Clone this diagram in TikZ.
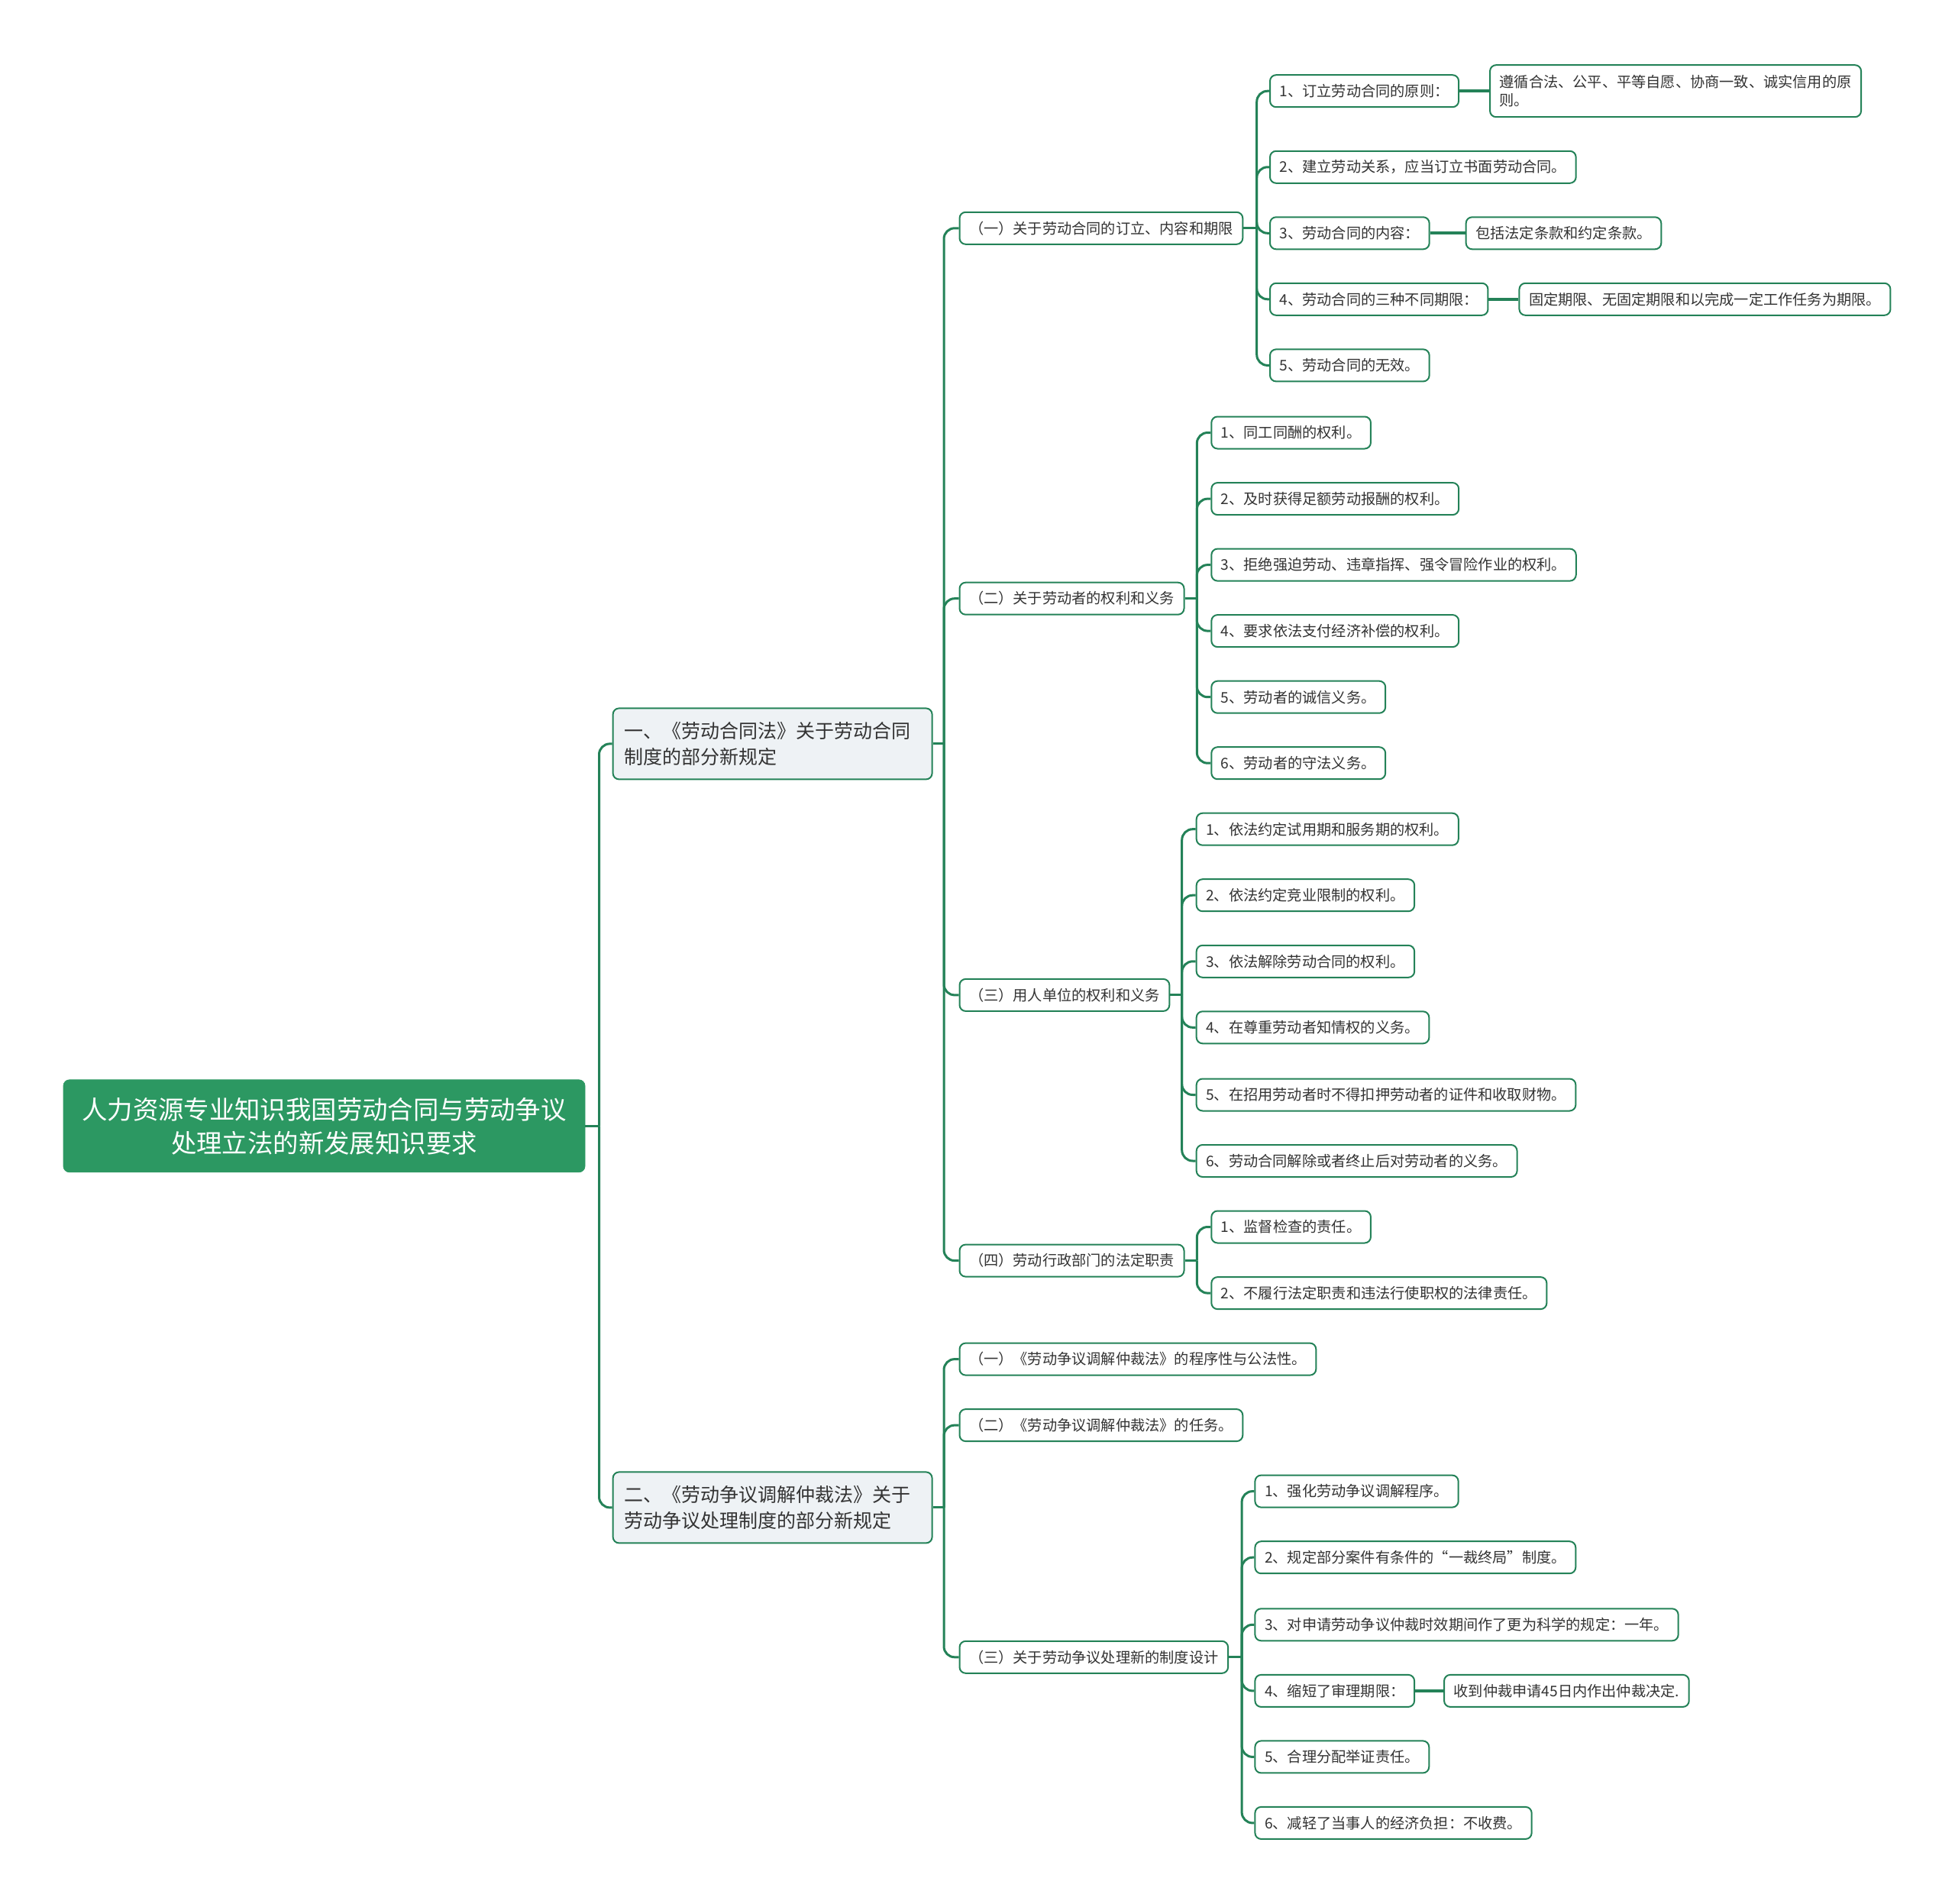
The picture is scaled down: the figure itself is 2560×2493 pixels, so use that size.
\documentclass[tikz,border=0pt]{standalone}
\usepackage{fontspec}
\setmainfont{Noto Sans CJK SC}
\usetikzlibrary{positioning}
\definecolor{mapgreen}{RGB}{44,152,98}
\definecolor{linegreen}{RGB}{36,130,88}
\definecolor{secfill}{RGB}{238,242,245}
\definecolor{txtgray}{RGB}{51,51,51}
\tikzset{
  rootbox/.style={draw=mapgreen,fill=mapgreen,rounded corners=4pt,text=white,
    font=\fontsize{16.7}{22}\selectfont,align=center,minimum width=341.5pt,
    minimum height=60.5pt,inner sep=0pt},
  secbox/.style={draw=linegreen,line width=1pt,fill=secfill,rounded corners=4pt,
    text=txtgray,font=\fontsize{12.5}{17}\selectfont,text width=194pt,align=left,
    inner xsep=7.5pt,inner ysep=0pt,minimum height=46.5pt,anchor=west},
  subbox/.style={draw=linegreen,line width=1pt,fill=white,rounded corners=4pt,
    text=txtgray,font=\fontsize{9.6}{12.2}\selectfont,align=left,
    inner xsep=6.3pt,inner ysep=0pt,minimum height=21pt,anchor=west},
  flow/.style={draw=linegreen,line width=1.5pt,rounded corners=7pt},
  link/.style={draw=linegreen,line width=1.8pt},
}
\begin{document}
\begin{tikzpicture}[x=0.5pt,y=-0.5pt]
  \useasboundingbox (0,0) rectangle (2560,2493);
  % trunks
  \coordinate (t0) at (784.5,0);
  \coordinate (ts1) at (1236,0);
  \coordinate (ts2) at (1236,0);
  \coordinate (ta1) at (1645.7,0);
  \coordinate (ta2) at (1567.3,0);
  \coordinate (ta3) at (1547.7,0);
  \coordinate (ta4) at (1567.3,0);
  \coordinate (tb3) at (1626.1,0);

  \node[rootbox] (root) at (424.5,1474.3) {人力资源专业知识我国劳动合同与劳动争议\\处理立法的新发展知识要求};

  \node[secbox] (s1) at (801.6,973.9) {一、《劳动合同法》关于劳动合同\\制度的部分新规定};
  \node[secbox] (s2) at (801.6,1973.9) {二、《劳动争议调解仲裁法》关于\\劳动争议处理制度的部分新规定};

  \node[subbox] (a1) at (1255.5,298.8) {（一）关于劳动合同的订立、内容和期限};
  \node[subbox] (a2) at (1255.5,783.7) {（二）关于劳动者的权利和义务};
  \node[subbox] (a3) at (1255.5,1302.9) {（三）用人单位的权利和义务};
  \node[subbox] (a4) at (1255.5,1650.6) {（四）劳动行政部门的法定职责};
  \node[subbox] (b1) at (1255.5,1779.6) {（一）《劳动争议调解仲裁法》的程序性与公法性。};
  \node[subbox] (b2) at (1255.5,1866.1) {（二）《劳动争议调解仲裁法》的任务。};
  \node[subbox] (b3) at (1255.5,2169.8) {（三）关于劳动争议处理新的制度设计};

  % (一) 订立、内容和期限
  \node[subbox] (a11) at (1662,119.2) {1、订立劳动合同的原则：};
  \node[subbox] (a12) at (1662,218.8) {2、建立劳动关系，应当订立书面劳动合同。};
  \node[subbox] (a13) at (1662,305.3) {3、劳动合同的内容：};
  \node[subbox] (a14) at (1662,391.8) {4、劳动合同的三种不同期限：};
  \node[subbox] (a15) at (1662,478.4) {5、劳动合同的无效。};
  \node[subbox,minimum height=34pt,right=19.5pt of a11] (a11d) {遵循合法、公平、平等自愿、协商一致、诚实信用的原\\则。};
  \node[subbox,right=23pt of a13] (a13d) {包括法定条款和约定条款。};
  \node[subbox,right=19.5pt of a14] (a14d) {固定期限、无固定期限和以完成一定工作任务为期限。};

  % (二) 劳动者
  \node[subbox] (a21) at (1585.3,566.5) {1、同工同酬的权利。};
  \node[subbox] (a22) at (1585.3,653.1) {2、及时获得足额劳动报酬的权利。};
  \node[subbox] (a23) at (1585.3,739.6) {3、拒绝强迫劳动、违章指挥、强令冒险作业的权利。};
  \node[subbox] (a24) at (1585.3,826.1) {4、要求依法支付经济补偿的权利。};
  \node[subbox] (a25) at (1585.3,912.7) {5、劳动者的诚信义务。};
  \node[subbox] (a26) at (1585.3,999.2) {6、劳动者的守法义务。};

  % (三) 用人单位
  \node[subbox] (a31) at (1565.7,1085.7) {1、依法约定试用期和服务期的权利。};
  \node[subbox] (a32) at (1565.7,1172.2) {2、依法约定竞业限制的权利。};
  \node[subbox] (a33) at (1565.7,1258.8) {3、依法解除劳动合同的权利。};
  \node[subbox] (a34) at (1565.7,1345.3) {4、在尊重劳动者知情权的义务。};
  \node[subbox] (a35) at (1565.7,1433.5) {5、在招用劳动者时不得扣押劳动者的证件和收取财物。};
  \node[subbox] (a36) at (1565.7,1520.0) {6、劳动合同解除或者终止后对劳动者的义务。};

  % (四) 劳动行政部门
  \node[subbox] (a41) at (1585.3,1606.5) {1、监督检查的责任。};
  \node[subbox] (a42) at (1585.3,1693.1) {2、不履行法定职责和违法行使职权的法律责任。};

  % 制度设计
  \node[subbox] (b31) at (1642.4,1952.6) {1、强化劳动争议调解程序。};
  \node[subbox] (b32) at (1642.4,2039.2) {2、规定部分案件有条件的“一裁终局”制度。};
  \node[subbox] (b33) at (1642.4,2127.3) {3、对申请劳动争议仲裁时效期间作了更为科学的规定：一年。};
  \node[subbox] (b34) at (1642.4,2213.9) {4、缩短了审理期限：};
  \node[subbox] (b35) at (1642.4,2300.4) {5、合理分配举证责任。};
  \node[subbox] (b36) at (1642.4,2386.9) {6、减轻了当事人的经济负担：不收费。};
  \node[subbox,right=18.5pt of b34] (b34d) {收到仲裁申请45日内作出仲裁决定.};

  % connectors
  \draw[flow] (root.east) -- (root.east -| t0);
  \foreach \c in {s1,s2}
    \draw[flow] (t0 |- root.east) |- (\c.west);
  \draw[flow] (s1.east) -- (s1.east -| ts1);
  \foreach \c in {a1,a2,a3,a4}
    \draw[flow] (ts1 |- s1.east) |- (\c.west);
  \draw[flow] (s2.east) -- (s2.east -| ts2);
  \foreach \c in {b1,b2,b3}
    \draw[flow] (ts2 |- s2.east) |- (\c.west);
  \draw[flow] (a1.east) -- (a1.east -| ta1);
  \foreach \c in {a11,a12,a13,a14,a15}
    \draw[flow] (ta1 |- a1.east) |- (\c.west);
  \draw[flow] (a2.east) -- (a2.east -| ta2);
  \foreach \c in {a21,a22,a23,a24,a25,a26}
    \draw[flow] (ta2 |- a2.east) |- (\c.west);
  \draw[flow] (a3.east) -- (a3.east -| ta3);
  \foreach \c in {a31,a32,a33,a34,a35,a36}
    \draw[flow] (ta3 |- a3.east) |- (\c.west);
  \draw[flow] (a4.east) -- (a4.east -| ta4);
  \foreach \c in {a41,a42}
    \draw[flow] (ta4 |- a4.east) |- (\c.west);
  \draw[flow] (b3.east) -- (b3.east -| tb3);
  \foreach \c in {b31,b32,b33,b34,b35,b36}
    \draw[flow] (tb3 |- b3.east) |- (\c.west);
  \draw[link] (a11.east) -- (a11d.west);
  \draw[link] (a13.east) -- (a13d.west);
  \draw[link] (a14.east) -- (a14d.west);
  \draw[link] (b34.east) -- (b34d.west);
\end{tikzpicture}
\end{document}
